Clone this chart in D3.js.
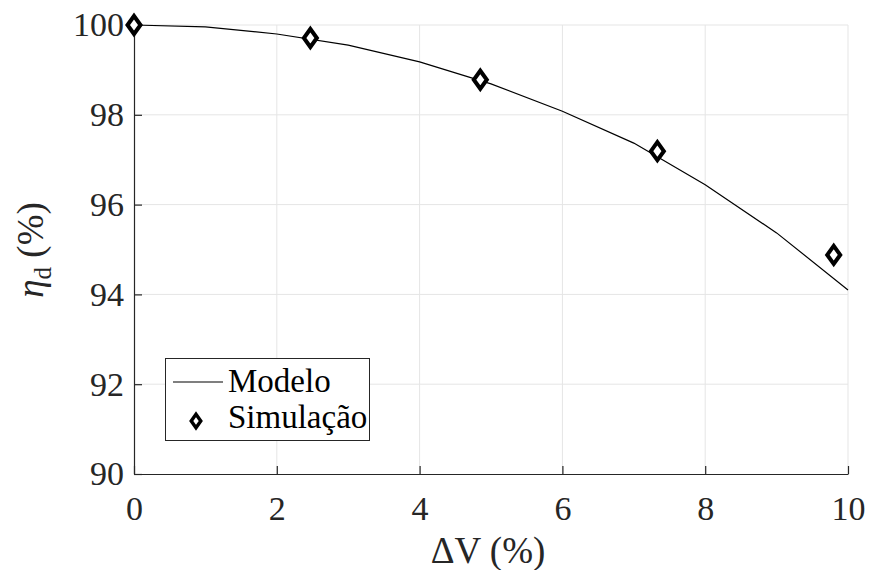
<!DOCTYPE html>
<html><head><meta charset="utf-8">
<script src="https://cdn.jsdelivr.net/npm/d3@7"></script>
<style>body{margin:0;background:#fff}svg{display:block}</style>
</head><body>
<script>
const modelX = [0,1,2,3,4,5,6,7,8,9,10];
const modelY = [100,99.96,99.8,99.55,99.18,98.69,98.08,97.37,96.44,95.37,94.1];
const simX = [0,2.47,4.85,7.33,9.8];
const simY = [100,99.71,98.78,97.19,94.88];
const xTicks = [0,2,4,6,8,10];
const yTicks = [90,92,94,96,98,100];

const FONT="'Liberation Serif', 'Times New Roman', serif";
const W=869,H=570;
const svg=d3.select("body").append("svg").attr("width",W).attr("height",H);
const x=d3.scaleLinear().domain([0,10]).range([134,848]);
const y=d3.scaleLinear().domain([90,100]).range([474,25]);

// grid
svg.append("g").selectAll("line").data(xTicks.slice(1)).join("line")
 .attr("x1",d=>x(d)).attr("x2",d=>x(d)).attr("y1",y(90)).attr("y2",y(100))
 .attr("stroke","#e5e5e5").attr("stroke-width",1);
svg.append("g").selectAll("line").data(yTicks.slice(1)).join("line")
 .attr("x1",x(0)).attr("x2",x(10)).attr("y1",d=>y(d)).attr("y2",d=>y(d))
 .attr("stroke","#e5e5e5").attr("stroke-width",1);

// axes
const xa=svg.append("g").attr("transform",`translate(0,${y(90)})`)
 .call(d3.axisBottom(x).tickValues(xTicks).tickSizeInner(-8).tickSizeOuter(0).tickPadding(22));
const ya=svg.append("g").attr("transform",`translate(${x(0)},0)`)
 .call(d3.axisLeft(y).tickValues(yTicks).tickSizeInner(-8).tickSizeOuter(0).tickPadding(10));
[xa,ya].forEach(a=>{a.attr("font-family",null).attr("font-size",null);
 a.selectAll("path,line").attr("stroke","#262626").attr("stroke-width",1.2);
 a.selectAll("text").style("font-family",FONT).style("font-size","34px").style("fill","#262626");});

// model line
const pts=modelX.map((d,i)=>[d,modelY[i]]);
svg.append("path").datum(pts).attr("fill","none").attr("stroke","#000").attr("stroke-width",1.2)
 .attr("d",d3.line().x(d=>x(d[0])).y(d=>y(d[1])));

// diamonds
const dia=(cx,cy,a,b)=>`M${cx},${cy-b}L${cx+a},${cy}L${cx},${cy+b}L${cx-a},${cy}Z`;
svg.append("g").selectAll("path").data(simX.map((d,i)=>[d,simY[i]])).join("path")
 .attr("d",d=>dia(x(d[0]),y(d[1]),6.5,9)).attr("fill","#fff").attr("stroke","#000").attr("stroke-width",4);

// legend
const lg=svg.append("g").style("font-family",FONT).style("font-size","33px").style("fill","#000");
lg.append("rect").attr("x",165.5).attr("y",358.5).attr("width",204).attr("height",82)
 .attr("fill","#fff").attr("stroke","#262626").attr("stroke-width",1);
lg.append("line").attr("x1",173).attr("x2",223).attr("y1",382).attr("y2",382).attr("stroke","#000").attr("stroke-width",1.2);
lg.append("text").attr("x",228).attr("y",392).text("Modelo");
lg.append("path").attr("d",dia(196,421,4.8,6.8)).attr("fill","#fff").attr("stroke","#000").attr("stroke-width",3.4);
lg.append("text").attr("x",228).attr("y",428).text("Simulação");

// axis labels
svg.append("text").attr("x",488).attr("y",563).attr("text-anchor","middle")
 .style("font-family",FONT).style("font-size","37px").style("fill","#262626").text("ΔV (%)");
const yl=svg.append("text").attr("transform","translate(43,250) rotate(-90)").attr("text-anchor","middle")
 .style("font-family",FONT).style("font-size","37px").style("fill","#262626");
yl.append("tspan").style("font-style","italic").text("η");
yl.append("tspan").style("font-size","25px").attr("dy",8).text("d");
yl.append("tspan").attr("dy",-8).text(" (%)");
</script>
</body></html>
